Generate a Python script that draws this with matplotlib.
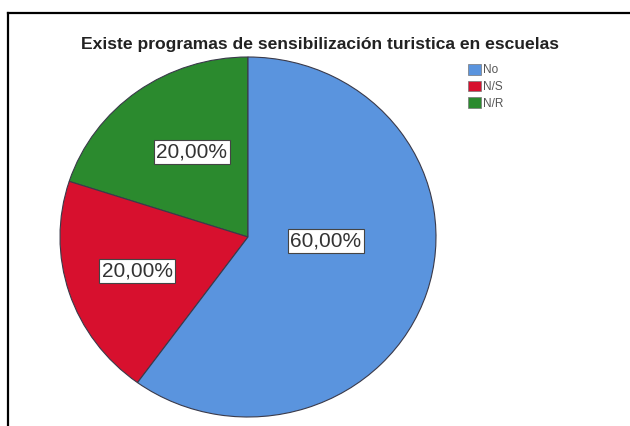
import numpy as np
import matplotlib
matplotlib.use("Agg")
import matplotlib.pyplot as plt
from matplotlib.patches import Patch
from matplotlib.lines import Line2D

title = "Existe programas de sensibilización turistica en escuelas"
categories = ["No", "N/S", "N/R"]
percent = [60.0, 20.0, 20.0]

colors = ["#5A94DE", "#D7102E", "#2B8A2E"]

# slices are drawn counterclockwise from 12 o'clock: N/R, N/S, then No
order = [2, 1, 0]
# where each label sits: fraction along the wedge angle, radius
label_frac = {0: 0.57, 1: 0.50, 2: 0.45}
label_rad = {0: 0.415, 1: 0.62, 2: 0.56}

W, H = 630, 426
fig = plt.figure(figsize=(W / 100, H / 100), dpi=100)

# pie is a bit wider than tall in the original (rx 188px, ry 180px)
cx, cy, rx, ry = 248, 237, 188, 180
m = 1.1
ax = fig.add_axes([(cx - rx * m) / W, (H - cy - ry * m) / H,
                   2 * rx * m / W, 2 * ry * m / H])

vals = [percent[i] for i in order]
cols = [colors[i] for i in order]
wedges, _ = ax.pie(vals, colors=cols, startangle=90, counterclock=True,
                   radius=1.0,
                   wedgeprops=dict(edgecolor="#3a3a4a", linewidth=0.8))
ax.set_aspect("auto")
ax.set_xlim(-m, m)
ax.set_ylim(-m, m)
ax.axis("off")

for w, i in zip(wedges, order):
    ang = np.deg2rad(w.theta1 + (w.theta2 - w.theta1) * label_frac[i])
    r = label_rad[i]
    ax.text(r * np.cos(ang), r * np.sin(ang),
            f"{percent[i]:.2f}%".replace(".", ","),
            ha="center", va="center", fontsize=15, color="#333333",
            family="Liberation Sans",
            bbox=dict(boxstyle="square,pad=0.12", facecolor="white",
                      edgecolor="#444444", linewidth=0.8))

fig.text(320 / W, 1 - 44 / H, title, ha="center", va="center",
         fontsize=12.6, fontweight="bold", family="Liberation Sans",
         color="#222222")

handles = [Patch(facecolor=c, edgecolor="#777777", linewidth=0.5) for c in colors]
fig.legend(handles, categories, loc="upper left",
           bbox_to_anchor=(462 / W, 1 - 58 / H), frameon=False,
           handlelength=1.1, handleheight=1.05,
           handletextpad=0.2, labelspacing=0.35, borderpad=0,
           prop=dict(family="Liberation Sans", size=8.5),
           labelcolor="#555555")

# outer frame: only top and left edges are visible
fig.add_artist(Line2D([8 / W, 1], [1 - 13 / H, 1 - 13 / H],
                      transform=fig.transFigure, color="black", lw=1.6))
fig.add_artist(Line2D([8 / W, 8 / W], [0, 1 - 13 / H],
                      transform=fig.transFigure, color="black", lw=1.6))

fig.savefig("out.png", dpi=100)
